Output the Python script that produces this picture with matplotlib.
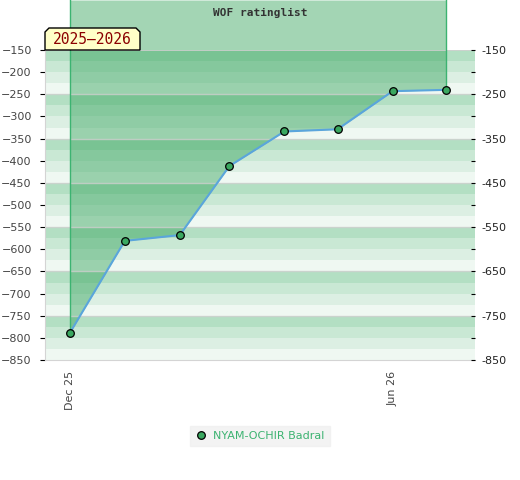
import numpy as np
import pandas as pd
import matplotlib
matplotlib.use("Agg")
import matplotlib.pyplot as plt
import matplotlib.dates as mdates
from matplotlib.patches import Polygon

# data
months = ["2025-12-01", "2026-01-01", "2026-02-01", "2026-03-01",
          "2026-04-01", "2026-05-01", "2026-06-01", "2026-07-01"]
ratings = [-789, -581, -568, -412, -334, -329, -243, -240]
player = "NYAM-OCHIR Badral"
season = "2025\u20132026"
title = "WOF ratinglist"
tick_dates = ["2025-12-01", "2026-06-01"]
tick_labels = ["Dec 25", "Jun 26"]

x = mdates.date2num(pd.to_datetime(months))
y = np.array(ratings)

fig = plt.figure(figsize=(5.2, 4.8), dpi=100)
ax = fig.add_axes([45 / 520, 1 - 360 / 480, 430 / 520, 310 / 480])

ymin, ymax = -850, -150
ax.set_ylim(ymin, ymax)
ax.set_xlim(x[0] - 14, x[-1] + 16.5)

# striped background, 4 shades per 100 points
stripe_cols = ["#b3dfc3", "#c9e8d4", "#dcefe3", "#eff8f2"]
for i, top in enumerate(range(ymax, ymin, -25)):
    ax.axhspan(top - 25, top, color=stripe_cols[i % 4], lw=0, zorder=0)
for g in range(ymax - 100, ymin, -100):
    ax.axhline(g, color="#d0d0d0", lw=1, zorder=1.5, alpha=0.8)
ax.axhline(ymax, color="#d0d0d0", lw=1.2, zorder=1.5)

# fill from line up to top of figure
top_val = ymax + 50 * (ymax - ymin) / 310
fb = ax.fill_between(x, y, top_val, color="#33a25a", alpha=0.45, lw=0, zorder=1)
fb.set_clip_on(False)
for xv, yv in [(x[0], y[0]), (x[-1], y[-1])]:
    ax.plot([xv, xv], [yv, top_val], color="#3cb371", lw=1, zorder=2, clip_on=False)

ax.plot(x, y, color="#5aa5dc", lw=1.5, zorder=3)
ax.plot(x, y, "o", ms=5.5, mfc="#3aa860", mec="black", mew=0.9, zorder=4,
        label=player)

# axes style
for s in ["top", "right"]:
    ax.spines[s].set_visible(False)
ax.spines["left"].set_color("#d4d4d4")
ax.spines["bottom"].set_color("#d4d4d4")

ax.set_yticks(range(ymax, ymin - 1, -50))
ax.tick_params(axis="y", left=False, labelsize=8, labelcolor="#444444", pad=6)
ax.set_xticks(mdates.date2num(pd.to_datetime(tick_dates)))
ax.set_xticklabels(tick_labels, rotation=90)
ax.tick_params(axis="x", bottom=False, labelsize=8, labelcolor="#444444", pad=4)

ax2 = ax.twinx()
ax2.set_ylim(ymin, ymax)
for s in ["top", "right", "left", "bottom"]:
    ax2.spines[s].set_visible(False)
ax2.set_yticks(range(ymax, ymin - 1, -50))
ax2.set_yticklabels([str(v) if (ymax - v) % 100 == 0 else "" for v in range(ymax, ymin - 1, -50)])
ax2.tick_params(axis="y", direction="in", length=3, color="black", labelsize=8,
                labelcolor="#222222", pad=5)

# title and season tag
fig.text(0.5, 1 - 13 / 480, title, ha="center", va="center", fontsize=8,
         family="DejaVu Sans Mono", weight="bold", color="#333333")
W, H = 520, 480
tag = [(45, 50), (45, 32), (49, 28), (136, 28), (140, 32), (140, 50)]
fig.patches.append(Polygon([(px / W, 1 - py / H) for px, py in tag], closed=True,
                           transform=fig.transFigure, fc="#ffffc8", ec="black",
                           lw=1, zorder=5))
fig.text(92.5 / W, 1 - 40 / H, season, ha="center", va="center", fontsize=10.5,
         family="DejaVu Sans Mono", color="#8b0000", zorder=6)

leg = ax.legend(loc="center", bbox_to_anchor=(0.5, 1 - 436 / 480),
                bbox_transform=fig.transFigure, frameon=True, fancybox=False,
                fontsize=8, handletextpad=0.6, handlelength=1.0,
                borderpad=0.45)
leg.get_frame().set_facecolor("#f0f0f0")
leg.get_frame().set_edgecolor("#f0f0f0")
for t in leg.get_texts():
    t.set_color("#3cb371")

fig.savefig("out.png", dpi=100)
